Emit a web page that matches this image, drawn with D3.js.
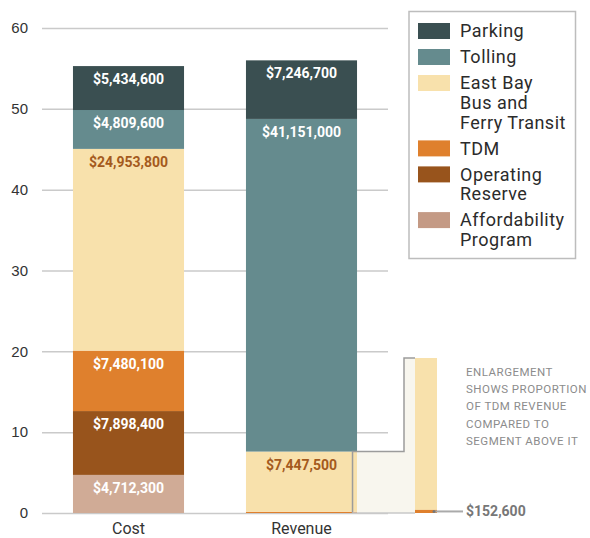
<!DOCTYPE html>
<html>
<head>
<meta charset="utf-8">
<script src="https://cdn.jsdelivr.net/npm/d3@7"></script>
<style>
  body { margin: 0; background: #fff; }
  svg { font-family: Roboto, "DejaVu Sans", sans-serif; }
</style>
</head>
<body>
<div id="chart"></div>
<script>
// Data
const categories = ["Cost", "Revenue"];
const segmentKeys = ["Affordability", "Reserve", "TDM", "Transit", "Tolling", "Parking"];
const costValues = [4712300, 7898400, 7480100, 24953800, 4809600, 5434600];
const revenueValues = [0, 0, 152600, 7447500, 41151000, 7246700];
const yTicks = [0, 10, 20, 30, 40, 50, 60];

// legend, top to bottom
const legendKeys = ["Parking", "Tolling", "Transit", "TDM", "Reserve", "Affordability"];
const legendLabels = [
  ["Parking"],
  ["Tolling"],
  ["East Bay", "Bus and", "Ferry Transit"],
  ["TDM"],
  ["Operating", "Reserve"],
  ["Affordability", "Program"]
];
const noteLines = ["ENLARGEMENT", "SHOWS PROPORTION", "OF TDM REVENUE", "COMPARED TO", "SEGMENT ABOVE IT"];

const colors = {
  Parking: "#3a4f51",
  Tolling: "#658b8e",
  Transit: "#f8e1ac",
  TDM: "#df802d",
  Reserve: "#98541c",
  Affordability: "#d0ab96"
};
const legendColors = { ...colors, Affordability: "#c49a85" };
const labelColors = { Transit: "#a45a1d" };

const width = 590;
const height = 538;
const margin = { top: 28, bottom: 25, left: 42 };
const plotRight = 388;

const svg = d3.select("#chart").append("svg")
  .attr("width", width)
  .attr("height", height);

// table for the stack
const rows = categories.map((c, i) => {
  const vals = i === 0 ? costValues : revenueValues;
  const row = { category: c };
  segmentKeys.forEach((k, j) => (row[k] = vals[j]));
  return row;
});
const series = d3.stack().keys(segmentKeys)(rows);

const x = d3.scaleBand()
  .domain(categories)
  .range([margin.left, plotRight])
  .paddingInner(0.358)
  .paddingOuter(0.179);

const y = d3.scaleLinear()
  .domain([0, 60e6])
  .range([height - margin.bottom, margin.top]);

// grid + y axis
const yAxis = svg.append("g")
  .attr("transform", `translate(${margin.left},0)`)
  .call(d3.axisLeft(y)
    .tickValues(yTicks.map((d) => d * 1e6))
    .tickFormat((d) => d / 1e6)
    .tickSize(-(plotRight - margin.left))
    .tickPadding(14));
yAxis.select(".domain").remove();
yAxis.selectAll("line").attr("stroke", "#cacaca").attr("stroke-width", 1.5);
yAxis.selectAll("text").attr("fill", "#333").style("font-size", "15px");

// x labels
svg.append("g")
  .selectAll("text")
  .data(categories)
  .join("text")
  .attr("x", (d) => x(d) + x.bandwidth() / 2)
  .attr("y", 534)
  .attr("text-anchor", "middle")
  .attr("fill", "#333")
  .style("font-size", "16px")
  .text((d) => d);

// bars
const fmt = d3.format("$,");
series.forEach((s) => {
  svg.append("g")
    .selectAll("rect")
    .data(s.filter((d) => d[1] > d[0]))
    .join("rect")
    .attr("x", (d) => x(d.data.category))
    .attr("width", x.bandwidth())
    .attr("y", (d) => y(d[1]))
    .attr("height", (d) => y(d[0]) - y(d[1]))
    .attr("fill", colors[s.key]);
});

// segment labels
series.forEach((s) => {
  svg.append("g")
    .selectAll("text")
    .data(s.filter((d) => d[1] - d[0] > 1e6))
    .join("text")
    .attr("x", (d) => x(d.data.category) + x.bandwidth() / 2)
    .attr("y", (d) => y(d[1]) + 18)
    .attr("text-anchor", "middle")
    .attr("fill", labelColors[s.key] || "#fff")
    .style("font-size", "14px")
    .style("font-weight", "bold")
    .text((d) => fmt(d[1] - d[0]));
});

// enlargement of the bottom of the revenue bar
const revTDM = revenueValues[2];
const revTransit = revenueValues[3];
const barRight = x("Revenue") + x.bandwidth();
const enlX = 415;
const enlW = 22;
const yE = d3.scaleLinear()
  .domain([0, revTDM + revTransit])
  .range([y(0), y(0) - 155]);
const segTop = y(revTDM + revTransit);
const stepX = 404;

svg.append("path")
  .attr("d", `M${barRight},${segTop}H${stepX}V${yE(revTDM + revTransit)}H${enlX}V${y(0)}H${barRight}Z`)
  .attr("fill", "#f8f6ee");

svg.append("rect")
  .attr("x", enlX).attr("width", enlW)
  .attr("y", yE(revTDM + revTransit))
  .attr("height", yE(revTDM) - yE(revTDM + revTransit))
  .attr("fill", colors.Transit);
svg.append("rect")
  .attr("x", enlX).attr("width", enlW)
  .attr("y", yE(revTDM))
  .attr("height", yE(0) - yE(revTDM))
  .attr("fill", colors.TDM);

svg.append("path")
  .attr("d", `M${barRight - 4.5},${y(0)}V${segTop}H${stepX}V${yE(revTDM + revTransit)}H${enlX}`)
  .attr("fill", "none")
  .attr("stroke", "#9c9c9c")
  .attr("stroke-width", 1.5);
svg.append("line")
  .attr("x1", barRight - 4.5).attr("x2", enlX)
  .attr("y1", y(0)).attr("y2", y(0))
  .attr("stroke", "#c8c8c8")
  .attr("stroke-width", 1.5);

// callout for the TDM revenue
const tdmY = (yE(0) + yE(revTDM)) / 2;
svg.append("line")
  .attr("x1", enlX + enlW - 3).attr("x2", 463)
  .attr("y1", tdmY).attr("y2", tdmY)
  .attr("stroke", "#aaa")
  .attr("stroke-width", 2);
svg.append("circle")
  .attr("cx", enlX + enlW - 3).attr("cy", tdmY).attr("r", 1.5)
  .attr("fill", "#777");
svg.append("text")
  .attr("x", 466).attr("y", tdmY)
  .attr("dy", "0.35em")
  .attr("fill", "#777")
  .style("font-size", "14px")
  .style("font-weight", "bold")
  .text(fmt(revTDM));

svg.append("g")
  .selectAll("text")
  .data(noteLines)
  .join("text")
  .attr("x", 466)
  .attr("y", (d, i) => 372 + i * 17.2)
  .attr("dy", "0.35em")
  .attr("fill", "#8c8c8c")
  .style("font-size", "11.5px")
  .style("letter-spacing", "0.5px")
  .text((d) => d);

// legend
const legend = svg.append("g");
legend.append("rect")
  .attr("x", 409).attr("y", 11.5)
  .attr("width", 166.5).attr("height", 247)
  .attr("fill", "#fff")
  .attr("stroke", "#bdbdbd")
  .attr("stroke-width", 1.5);

const lineH = 19.7;
const gap = 26;
let cy = 31;
legendKeys.forEach((k, i) => {
  legend.append("rect")
    .attr("x", 418).attr("y", cy - 8)
    .attr("width", 32).attr("height", 16)
    .attr("fill", legendColors[k]);
  legendLabels[i].forEach((t, j) => {
    legend.append("text")
      .attr("x", 460)
      .attr("y", cy + j * lineH)
      .attr("dy", "0.35em")
      .attr("fill", "#2b2b2b")
      .style("font-size", "18px")
      .style("letter-spacing", "0.5px")
      .text(t);
  });
  cy += (legendLabels[i].length - 1) * lineH + gap;
});
</script>
</body>
</html>
